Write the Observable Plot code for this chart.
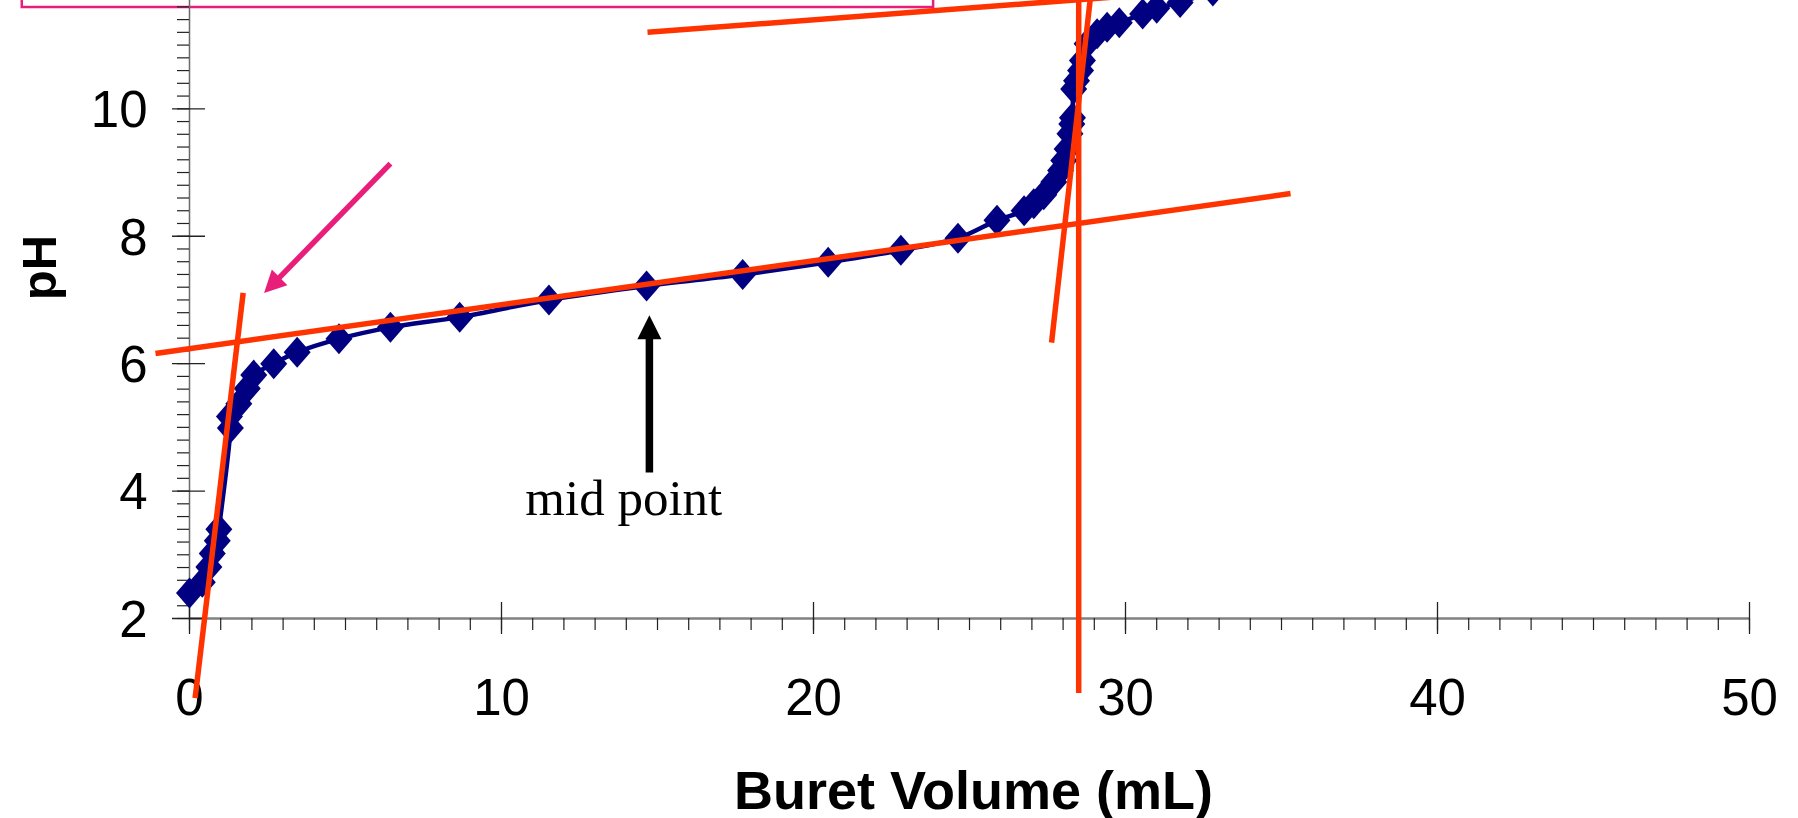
<!DOCTYPE html>
<html>
<head>
<meta charset="utf-8">
<script src="https://cdn.jsdelivr.net/npm/d3@7"></script>
<script src="https://cdn.jsdelivr.net/npm/@observablehq/plot@0.6"></script>
<style>
  html, body { margin: 0; padding: 0; background: #ffffff; }
  #chart svg { display: block; }
</style>
</head>
<body>
<div id="chart"></div>
<script>
// ---- Data ----
const volume = [0.00, 0.41, 0.62, 0.73, 0.89, 0.94, 1.31, 1.28, 1.58, 1.85, 2.06, 2.70, 3.45, 4.79, 6.44, 8.66, 11.52,
  14.65, 17.73, 20.47, 22.80, 24.63, 25.88, 26.75, 27.06, 27.38, 27.70, 27.92, 28.02, 28.13, 28.22, 28.28, 28.30,
  28.34, 28.43, 28.56, 28.62, 28.77, 29.09, 29.41, 29.80, 30.55, 31.00, 31.75, 32.80];
const pH = [2.40, 2.57, 2.81, 3.02, 3.22, 3.40, 4.99, 5.17, 5.37, 5.61, 5.82, 6.00, 6.18, 6.39, 6.57, 6.73, 7.00,
  7.22, 7.40, 7.59, 7.78, 7.97, 8.25, 8.40, 8.51, 8.65, 8.85, 9.03, 9.19, 9.37, 9.61, 9.76, 9.86,
  10.31, 10.44, 10.60, 10.76, 11.02, 11.18, 11.28, 11.35, 11.49, 11.58, 11.67, 11.85];

const xTicks = [0, 10, 20, 30, 40, 50];
const xMinorTicks = d3.range(0, 51, 1);
const yTicks = [2, 4, 6, 8, 10];
const yMinorTicks = d3.range(2, 11.7, 0.2);

// tangent lines drawn on the chart (start / end in data units: [volume, pH])
const tangentStart = [[0.18, 0.75], [-1.09, 6.16], [14.68, 11.20], [27.63, 6.33], [28.50, 0.83]];
const tangentEnd   = [[1.72, 7.11], [35.29, 8.67], [36.00, 11.99], [28.98, 12.20], [28.50, 12.20]];

// annotations (data units)
const midArrowTail = [14.74, 4.29];
const midArrowTip = [14.74, 6.76];
const midArrowShaftEnd = [14.74, 6.42];
const midLabel = "mid point";
const midLabelAt = [13.92, 3.62];
const pinkArrowTail = [6.44, 9.14];
const pinkArrowTip = [2.39, 7.11];
const pinkArrowShaftEnd = [2.84, 7.33];
const boxX = [-5.36, 23.85];
const boxY = [11.59, 13.0];

const xTitle = "Buret Volume (mL)";
const yTitle = "pH";

// ---- build tables ----
const points = volume.map((v, i) => ({v, ph: pH[i]}));
const tangents = tangentStart.map((s, i) => ({x1: s[0], y1: s[1], x2: tangentEnd[i][0], y2: tangentEnd[i][1]}));

const navy = "#000080";
const red = "#ff3300";
const pink = "#e91e7b";

const diamond = {draw(ctx) { ctx.moveTo(0, -15.5); ctx.lineTo(13.5, 0); ctx.lineTo(0, 15.5); ctx.lineTo(-13.5, 0); ctx.closePath(); }};
const arrowHead = (w, l) => ({draw(ctx) { ctx.moveTo(0, 0); ctx.lineTo(w, l); ctx.lineTo(-w, l); ctx.closePath(); }});

const chart = Plot.plot({
  width: 1798,
  height: 818,
  marginLeft: 189,
  marginRight: 49,
  marginTop: 0,
  marginBottom: 200,
  style: {fontFamily: "'Liberation Sans', Arial, sans-serif", fontSize: "51px", color: "#000", background: "#fff", overflow: "hidden"},
  x: {domain: [0, 50]},
  y: {domain: [2, 11.70]},
  marks: [
    // annotation box (partly cut off at top)
    Plot.rect([0], {x1: boxX[0], x2: boxX[1], y1: boxY[0], y2: boxY[1], fill: "none", stroke: pink, strokeWidth: 2.5}),
    // axis lines
    Plot.ruleY([2], {stroke: "#808080", strokeWidth: 2.3}),
    Plot.ruleX([0], {stroke: "#6a6a6a", strokeWidth: 1.5}),
    // minor ticks
    Plot.ruleX(xMinorTicks, {x: d => d, y1: 2, y2: 2, insetTop: 0, insetBottom: -12, stroke: "#222", strokeWidth: 1.2}),
    Plot.ruleY(yMinorTicks, {y: d => d, x1: 0, x2: 0, insetLeft: -12, insetRight: 0, stroke: "#222", strokeWidth: 1.2}),
    // major ticks (cross the axis)
    Plot.ruleX(xTicks, {x: d => d, y1: 2, y2: 2, insetTop: -16, insetBottom: -16, stroke: "#222", strokeWidth: 1.3}),
    Plot.ruleY(yTicks, {y: d => d, x1: 0, x2: 0, insetLeft: -17, insetRight: -16, stroke: "#222", strokeWidth: 1.3}),
    // tick labels
    Plot.axisX(xTicks, {tickSize: 0, tickPadding: 60, fontSize: 51, label: null, tickFormat: "d"}),
    Plot.axisY(yTicks, {tickSize: 0, tickPadding: 42, fontSize: 51, label: null, dy: 2, tickFormat: "d"}),
    // axis titles
    Plot.text([xTitle], {frameAnchor: "bottom", text: d => d, dx: 4, dy: 190, textAnchor: "middle", lineAnchor: "bottom", fontSize: 54, fontWeight: "bold"}),
    Plot.text([yTitle], {frameAnchor: "left", text: d => d, dx: -149, dy: -42, rotate: -90, textAnchor: "middle", lineAnchor: "middle", fontSize: 49, fontWeight: "bold"}),
    // titration curve
    Plot.line(points, {x: "v", y: "ph", curve: "catmull-rom", stroke: navy, strokeWidth: 4.5}),
    Plot.dot(points, {x: "v", y: "ph", symbol: diamond, fill: navy, stroke: "none"}),
    // tangent lines
    Plot.link(tangents, {x1: "x1", y1: "y1", x2: "x2", y2: "y2", stroke: red, strokeWidth: 5.5}),
    // mid point arrow + label
    Plot.link([0], {x1: midArrowTail[0], y1: midArrowTail[1], x2: midArrowShaftEnd[0], y2: midArrowShaftEnd[1], stroke: "#000", strokeWidth: 7.5}),
    Plot.dot([0], {x: midArrowTip[0], y: midArrowTip[1], symbol: arrowHead(12, 24), fill: "#000", stroke: "none"}),
    Plot.text([midLabel], {x: midLabelAt[0], y: midLabelAt[1], text: d => d, fontFamily: "'Liberation Serif', 'Times New Roman', serif", fontSize: 51, lineAnchor: "bottom", textAnchor: "middle"}),
    // pink arrow
    Plot.link([0], {x1: pinkArrowTail[0], y1: pinkArrowTail[1], x2: pinkArrowShaftEnd[0], y2: pinkArrowShaftEnd[1], stroke: pink, strokeWidth: 5.5}),
    Plot.dot([0], {x: pinkArrowTip[0], y: pinkArrowTip[1], symbol: arrowHead(11, 22), rotate: 225, fill: pink, stroke: "none"})
  ]
});
document.getElementById("chart").appendChild(chart);
</script>
</body>
</html>
